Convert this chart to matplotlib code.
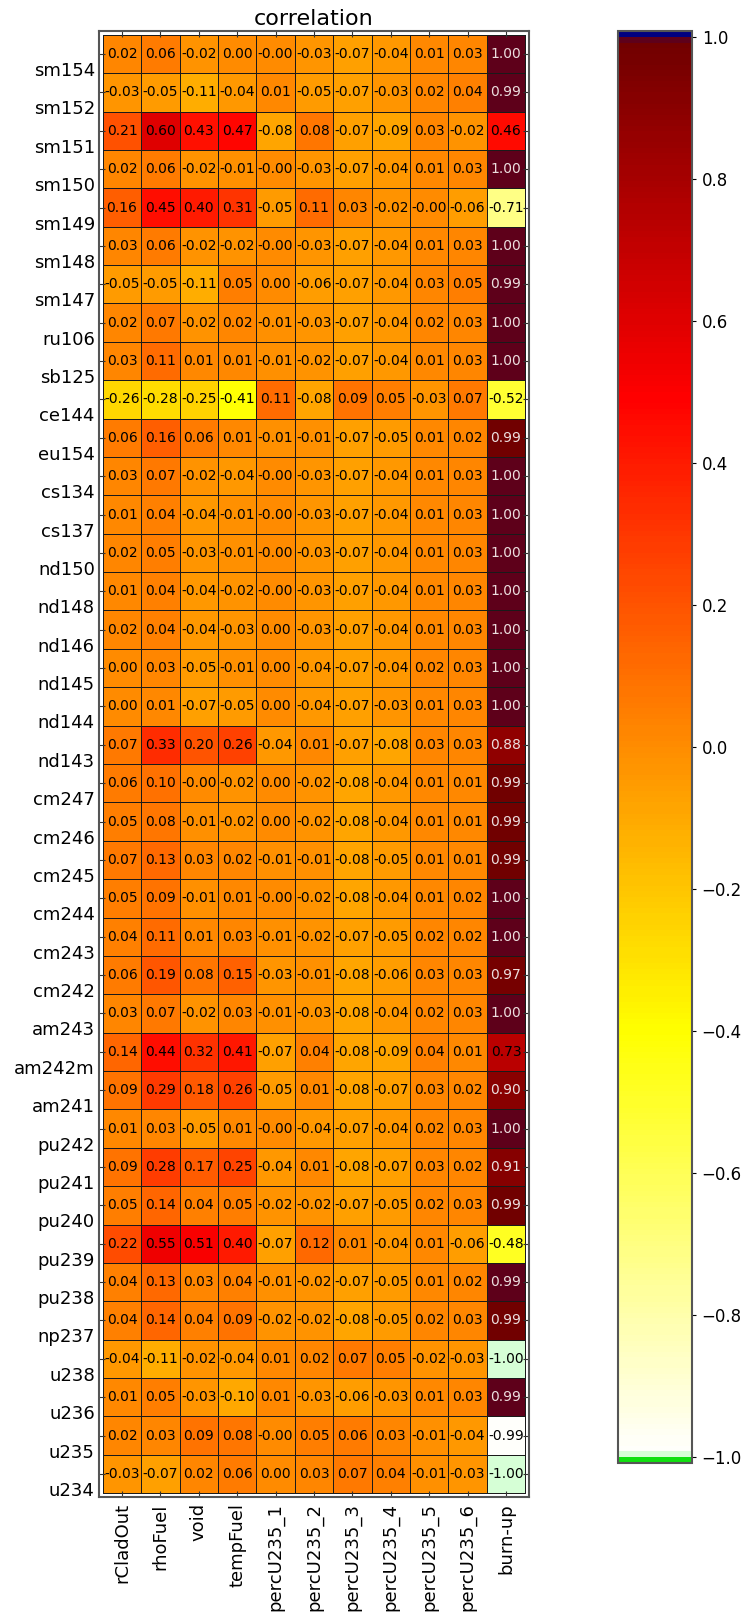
import numpy as np
import matplotlib
matplotlib.use('Agg')
import matplotlib.pyplot as plt
from matplotlib.colors import ListedColormap, Normalize
from matplotlib.transforms import ScaledTranslation

# input parameters (columns)
params = ['rCladOut', 'rhoFuel', 'void', 'tempFuel', 'percU235_1', 'percU235_2',
          'percU235_3', 'percU235_4', 'percU235_5', 'percU235_6', 'burn-up']

# isotopes (rows, top to bottom)
isotopes = ['sm154', 'sm152', 'sm151', 'sm150', 'sm149', 'sm148', 'sm147', 'ru106',
            'sb125', 'ce144', 'eu154', 'cs134', 'cs137', 'nd150', 'nd148', 'nd146',
            'nd145', 'nd144', 'nd143', 'cm247', 'cm246', 'cm245', 'cm244', 'cm243',
            'cm242', 'am243', 'am242m', 'am241', 'pu242', 'pu241', 'pu240', 'pu239',
            'pu238', 'np237', 'u238', 'u236', 'u235', 'u234']

corr = [
    [0.02, 0.06, -0.02, 0.00, -0.00, -0.03, -0.07, -0.04, 0.01, 0.03, 1.00],
    [-0.03, -0.05, -0.11, -0.04, 0.01, -0.05, -0.07, -0.03, 0.02, 0.04, 0.995],
    [0.21, 0.60, 0.43, 0.47, -0.08, 0.08, -0.07, -0.09, 0.03, -0.02, 0.46],
    [0.02, 0.06, -0.02, -0.01, -0.00, -0.03, -0.07, -0.04, 0.01, 0.03, 1.00],
    [0.16, 0.45, 0.40, 0.31, -0.05, 0.11, 0.03, -0.02, -0.00, -0.06, -0.71],
    [0.03, 0.06, -0.02, -0.02, -0.00, -0.03, -0.07, -0.04, 0.01, 0.03, 1.00],
    [-0.05, -0.05, -0.11, 0.05, 0.00, -0.06, -0.07, -0.04, 0.03, 0.05, 0.995],
    [0.02, 0.07, -0.02, 0.02, -0.01, -0.03, -0.07, -0.04, 0.02, 0.03, 1.00],
    [0.03, 0.11, 0.01, 0.01, -0.01, -0.02, -0.07, -0.04, 0.01, 0.03, 1.00],
    [-0.26, -0.28, -0.25, -0.41, 0.11, -0.08, 0.09, 0.05, -0.03, 0.07, -0.52],
    [0.06, 0.16, 0.06, 0.01, -0.01, -0.01, -0.07, -0.05, 0.01, 0.02, 0.99],
    [0.03, 0.07, -0.02, -0.04, -0.00, -0.03, -0.07, -0.04, 0.01, 0.03, 1.00],
    [0.01, 0.04, -0.04, -0.01, -0.00, -0.03, -0.07, -0.04, 0.01, 0.03, 1.00],
    [0.02, 0.05, -0.03, -0.01, -0.00, -0.03, -0.07, -0.04, 0.01, 0.03, 1.00],
    [0.01, 0.04, -0.04, -0.02, -0.00, -0.03, -0.07, -0.04, 0.01, 0.03, 1.00],
    [0.02, 0.04, -0.04, -0.03, 0.00, -0.03, -0.07, -0.04, 0.01, 0.03, 1.00],
    [0.00, 0.03, -0.05, -0.01, 0.00, -0.04, -0.07, -0.04, 0.02, 0.03, 1.00],
    [0.00, 0.01, -0.07, -0.05, 0.00, -0.04, -0.07, -0.03, 0.01, 0.03, 1.00],
    [0.07, 0.33, 0.20, 0.26, -0.04, 0.01, -0.07, -0.08, 0.03, 0.03, 0.88],
    [0.06, 0.10, -0.00, -0.02, 0.00, -0.02, -0.08, -0.04, 0.01, 0.01, 0.99],
    [0.05, 0.08, -0.01, -0.02, 0.00, -0.02, -0.08, -0.04, 0.01, 0.01, 0.99],
    [0.07, 0.13, 0.03, 0.02, -0.01, -0.01, -0.08, -0.05, 0.01, 0.01, 0.99],
    [0.05, 0.09, -0.01, 0.01, -0.00, -0.02, -0.08, -0.04, 0.01, 0.02, 1.00],
    [0.04, 0.11, 0.01, 0.03, -0.01, -0.02, -0.07, -0.05, 0.02, 0.02, 1.00],
    [0.06, 0.19, 0.08, 0.15, -0.03, -0.01, -0.08, -0.06, 0.03, 0.03, 0.97],
    [0.03, 0.07, -0.02, 0.03, -0.01, -0.03, -0.08, -0.04, 0.02, 0.03, 1.00],
    [0.14, 0.44, 0.32, 0.41, -0.07, 0.04, -0.08, -0.09, 0.04, 0.01, 0.73],
    [0.09, 0.29, 0.18, 0.26, -0.05, 0.01, -0.08, -0.07, 0.03, 0.02, 0.90],
    [0.01, 0.03, -0.05, 0.01, -0.00, -0.04, -0.07, -0.04, 0.02, 0.03, 1.00],
    [0.09, 0.28, 0.17, 0.25, -0.04, 0.01, -0.08, -0.07, 0.03, 0.02, 0.91],
    [0.05, 0.14, 0.04, 0.05, -0.02, -0.02, -0.07, -0.05, 0.02, 0.03, 0.99],
    [0.22, 0.55, 0.51, 0.40, -0.07, 0.12, 0.01, -0.04, 0.01, -0.06, -0.48],
    [0.04, 0.13, 0.03, 0.04, -0.01, -0.02, -0.07, -0.05, 0.01, 0.02, 0.995],
    [0.04, 0.14, 0.04, 0.09, -0.02, -0.02, -0.08, -0.05, 0.02, 0.03, 0.99],
    [-0.04, -0.11, -0.02, -0.04, 0.01, 0.02, 0.07, 0.05, -0.02, -0.03, -1.00],
    [0.01, 0.05, -0.03, -0.10, 0.01, -0.03, -0.06, -0.03, 0.01, 0.03, 0.995],
    [0.02, 0.03, 0.09, 0.08, -0.00, 0.05, 0.06, 0.03, -0.01, -0.04, -0.99],
    [-0.03, -0.07, 0.02, 0.06, 0.00, 0.03, 0.07, 0.04, -0.01, -0.03, -1.00],
]
data = np.array(corr)

# reversed "hot" stretched so +1 ends in dark red, with special end colours
hot = plt.get_cmap('hot')
n = 256
v = -1 + 2 * (np.arange(n) + 0.5) / n
colors = hot(1 - (v + 1) / 2.35)
colors[0] = (0.84, 1.0, 0.84, 1.0)
colors[-1] = (0.37, 0.0, 0.10, 1.0)
cmap = ListedColormap(colors)
cmap.set_under('#10e010')
cmap.set_over('#000080')
norm = Normalize(vmin=-1, vmax=1)

fig = plt.figure(figsize=(7.43, 16.12), dpi=100)
ax = fig.add_axes([99 / 743, 1 - 1497 / 1612, 430 / 743, 1466 / 1612])
cax = fig.add_axes([618 / 743, 1 - 1463 / 1612, 74 / 743, 1432 / 1612])

mesh = ax.pcolormesh(np.arange(len(params) + 1), np.arange(len(isotopes) + 1), data,
                     cmap=cmap, norm=norm, edgecolors='#1a1a1a', linewidth=0.6)
ax.set_xlim(-0.1, len(params) + 0.1)
ax.set_ylim(len(isotopes) + 0.1, -0.1)

# values in the cells
for i in range(len(isotopes)):
    for j in range(len(params)):
        val = data[i, j]
        col = '#ecdede' if val > 0.8 else 'black'
        ax.text(j + 0.5, i + 0.5, '%.2f' % val, ha='center', va='center',
                fontsize=10, color=col)

ax.set_xticks(np.arange(len(params)) + 0.5)
ax.set_xticklabels(params, rotation=90, fontsize=13)
ax.set_yticks(np.arange(len(isotopes)) + 0.5)
ax.set_yticklabels(isotopes, fontsize=13)
ax.tick_params(direction='in', length=4, top=True, right=True, color='#333333')
ax.tick_params(axis='x', pad=4.5)
ax.tick_params(axis='y', pad=3)

# row labels sit a half row lower than the ticks
offset = ScaledTranslation(0, -0.15, fig.dpi_scale_trans)
for lbl in ax.get_yticklabels():
    lbl.set_transform(lbl.get_transform() + offset)

for sp in ax.spines.values():
    sp.set_color('#555555')
    sp.set_linewidth(1.5)

ax.set_title('correlation', fontsize=16, pad=4)

cb = fig.colorbar(mesh, cax=cax, extend='both', extendrect=True, extendfrac=0.0042,
                  ticks=np.linspace(-1, 1, 11))
cb.ax.tick_params(labelsize=12, length=3, pad=4)
cb.outline.set_edgecolor('#555555')
cb.outline.set_linewidth(1.5)

fig.savefig('out.png', dpi=100)
